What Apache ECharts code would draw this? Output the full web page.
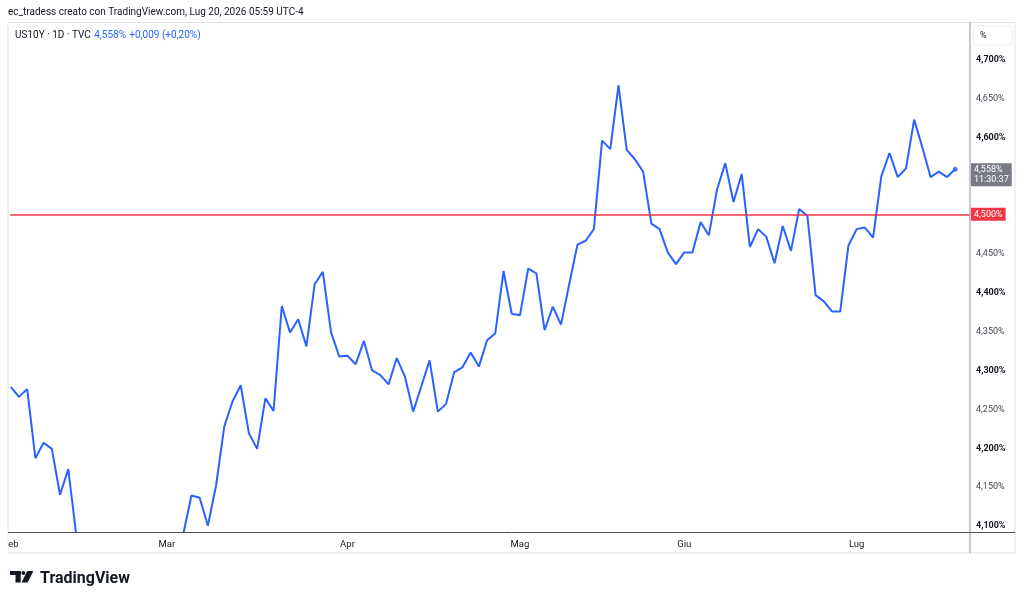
<!DOCTYPE html>
<html>
<head>
<meta charset="utf-8">
<script src="https://cdn.jsdelivr.net/npm/echarts@6/dist/echarts.min.js"></script>
<style>
html,body{margin:0;padding:0;background:#fff;}
#c{width:1024px;height:603px;}
</style>
</head>
<body>
<div id="c"></div>
<script>
// Trading days (2026), Feb 2 .. Jul 20
const tradingDays = [
 '02-02','02-03','02-04','02-05','02-06','02-09','02-10','02-11','02-12','02-13',
 '02-17','02-18','02-19','02-20','02-23','02-24','02-25','02-26','02-27',
 '03-02','03-03','03-04','03-05','03-06','03-09','03-10','03-11','03-12','03-13',
 '03-16','03-17','03-18','03-19','03-20','03-23','03-24','03-25','03-26','03-27','03-30','03-31',
 '04-01','04-02','04-06','04-07','04-08','04-09','04-10','04-13','04-14','04-15','04-16','04-17',
 '04-20','04-21','04-22','04-23','04-24','04-27','04-28','04-29','04-30',
 '05-01','05-04','05-05','05-06','05-07','05-08','05-11','05-12','05-13','05-14','05-15',
 '05-18','05-19','05-20','05-21','05-22','05-26','05-27','05-28','05-29',
 '06-01','06-02','06-03','06-04','06-05','06-08','06-09','06-10','06-11','06-12',
 '06-15','06-16','06-17','06-18','06-22','06-23','06-24','06-25','06-26','06-29','06-30',
 '07-01','07-02','07-06','07-07','07-08','07-09','07-10','07-13','07-14','07-15','07-16','07-17','07-20'
];
// US10Y daily close (%)
const yields = [
 4.278,4.265,4.275,4.186,4.206,4.198,4.139,4.172,4.085,4.050,
 4.060,4.080,4.070,4.080,4.030,4.030,4.050,4.020,3.970,
 4.040,4.060,4.088,4.138,4.135,4.099,4.151,4.227,4.259,4.280,
 4.218,4.198,4.263,4.247,4.382,4.348,4.365,4.330,4.410,4.426,4.348,4.317,
 4.318,4.307,4.337,4.299,4.293,4.281,4.315,4.291,4.246,4.279,4.312,4.246,
 4.256,4.297,4.303,4.322,4.304,4.338,4.347,4.427,4.372,
 4.370,4.430,4.424,4.351,4.381,4.358,4.410,4.461,4.466,4.481,4.595,
 4.584,4.666,4.583,4.571,4.555,4.488,4.481,4.451,4.436,
 4.451,4.451,4.490,4.473,4.532,4.566,4.516,4.552,4.458,4.481,
 4.471,4.437,4.485,4.453,4.507,4.498,4.396,4.388,4.375,4.375,4.460,
 4.481,4.483,4.470,4.549,4.579,4.548,4.559,4.622,4.586,4.548,4.555,4.548,4.558
];
const monthLabels = {'02':'Feb','03':'Mar','04':'Apr','05':'Mag','06':'Giu','07':'Lug'};
const yTicks = [4.10,4.15,4.20,4.25,4.30,4.35,4.40,4.45,4.50,4.55,4.60,4.65,4.70];
const refLevel = 4.50;
const lastTime = '11:30:37';

const monthStarts = [];
tradingDays.forEach((d, i) => {
  if (i === 0 || d.slice(0,2) !== tradingDays[i-1].slice(0,2)) monthStarts.push(i);
});
const seriesData = yields.map((v, i) => [i, v]);
const lastIdx = yields.length - 1;
const fmtPct = v => v.toFixed(3).replace('.', ',') + '%';

const chart = echarts.init(document.getElementById('c'), null, {renderer: 'canvas'});
const FONT = 'Roboto, "Liberation Sans", sans-serif';

chart.setOption({
  animation: false,
  backgroundColor: '#ffffff',
  grid: {left: 8, top: 22, width: 962, height: 510, containLabel: false},
  xAxis: {
    type: 'value',
    min: -0.06,
    max: 116.8,
    axisLine: {show: false},
    axisTick: {show: false},
    splitLine: {show: false},
    axisLabel: {
      customValues: monthStarts,
      formatter: v => monthLabels[tradingDays[Math.round(v)].slice(0,2)],
      color: '#131722',
      fontFamily: FONT,
      fontSize: 9.5,
      margin: 8
    }
  },
  yAxis: {
    type: 'value',
    position: 'right',
    min: 4.091,
    max: 4.7477,
    axisLine: {show: false},
    axisTick: {show: false},
    splitLine: {show: false},
    axisLabel: {
      customValues: yTicks,
      margin: 6,
      fontFamily: FONT,
      formatter: v => {
        const s = fmtPct(v);
        return Math.round(v * 1000) % 100 === 0 ? '{a|' + s + '}' : '{b|' + s + '}';
      },
      rich: {
        a: {color: '#131722', fontSize: 9, fontWeight: 'bold', fontFamily: FONT, padding: [2, 0, 0, 0]},
        b: {color: '#434651', fontSize: 9, fontWeight: 'normal', fontFamily: FONT, padding: [2, 0, 0, 0]}
      }
    }
  },
  series: [
    {
      type: 'line',
      data: seriesData,
      showSymbol: false,
      clip: true,
      lineStyle: {color: '#2962ff', width: 2},
      itemStyle: {color: '#2962ff'},
      z: 3,
      markLine: {
        silent: true,
        symbol: ['none', 'none'],
        animation: false,
        data: [
          {
            yAxis: refLevel,
            lineStyle: {color: '#f23645', width: 1.5, type: 'solid'},
            label: {
              show: true, position: 'end', distance: 1,
              formatter: () => fmtPct(refLevel),
              color: '#ffffff', backgroundColor: '#f23645',
              fontFamily: FONT, fontSize: 9, padding: [2, 3, 2, 3]
            }
          },
          {
            yAxis: yields[lastIdx],
            lineStyle: {color: 'rgba(0,0,0,0)', width: 1, type: 'solid'},
            label: {
              show: true, position: 'end', distance: 1, offset: [0, 7],
              formatter: () => fmtPct(yields[lastIdx]) + '\n' + lastTime,
              color: '#ffffff', backgroundColor: '#787b86',
              fontFamily: FONT, fontSize: 9, lineHeight: 10, padding: [2, 3, 1, 3]
            }
          }
        ]
      }
    },
    {
      type: 'scatter',
      data: [seriesData[lastIdx]],
      symbol: 'circle',
      symbolSize: 5,
      itemStyle: {color: '#2962ff'},
      z: 4
    }
  ],
  graphic: [
    // chart pane frame
    {type: 'rect', shape: {x: 8, y: 22.5, width: 1007, height: 530.5}, style: {fill: 'none', stroke: '#e0e3eb', lineWidth: 1}, z: 0, silent: true},
    // price axis separator
    {type: 'line', shape: {x1: 970, y1: 22.5, x2: 970, y2: 553}, style: {stroke: '#a3a6af', lineWidth: 1.2}, z: 10, silent: true},
    // time axis line
    {type: 'line', shape: {x1: 8, y1: 532.5, x2: 1015, y2: 532.5}, style: {stroke: '#50535e', lineWidth: 1}, z: 10, silent: true},
    // left clip of first month label
    {type: 'rect', shape: {x: 0, y: 534, width: 7.8, height: 18}, style: {fill: '#ffffff'}, z: 20, silent: true},
    // % box
    {type: 'rect', shape: {x: 973.5, y: 26, width: 39, height: 19, r: 3}, style: {fill: '#ffffff', stroke: '#eceef2', lineWidth: 1}, z: 10, silent: true},
    {type: 'text', x: 980, y: 35.5, style: {text: '%', fill: '#131722', font: '9px ' + FONT, textVerticalAlign: 'middle'}, z: 11, silent: true},
    // header
    {type: 'text', x: 8, y: 12, style: {text: 'ec_tradess creato con TradingView.com, Lug 20, 2026 05:59 UTC-4', fill: '#131722', font: '10px ' + FONT, textVerticalAlign: 'middle'}, z: 11, silent: true},
    {type: 'text', x: 15, y: 35, style: {
      text: '{d|US10Y · 1D · TVC} {u|4,558%} {u|+0,009 (+0,20%)}',
      rich: {
        d: {fill: '#131722', font: '10px ' + FONT},
        u: {fill: '#2962ff', font: '10px ' + FONT}
      },
      textVerticalAlign: 'middle'
    }, z: 11, silent: true},
    // TradingView logo mark
    {type: 'group', z: 11, silent: true, children: [
      {type: 'rect', shape: {x: 10, y: 571, width: 10.7, height: 4}, style: {fill: '#131722'}},
      {type: 'rect', shape: {x: 15.5, y: 571, width: 5.2, height: 11.5}, style: {fill: '#131722'}},
      {type: 'circle', shape: {cx: 23.4, cy: 573, r: 2}, style: {fill: '#131722'}},
      {type: 'polygon', shape: {points: [[27.2, 571], [33.4, 571], [27.6, 582.5], [21.6, 582.5]]}, style: {fill: '#131722'}}
    ]},
    {type: 'text', x: 40, y: 578.5, style: {text: 'TradingView', fill: '#131722', font: 'bold 16px ' + FONT, textVerticalAlign: 'middle'}, z: 11, silent: true}
  ]
});
</script>
</body>
</html>
